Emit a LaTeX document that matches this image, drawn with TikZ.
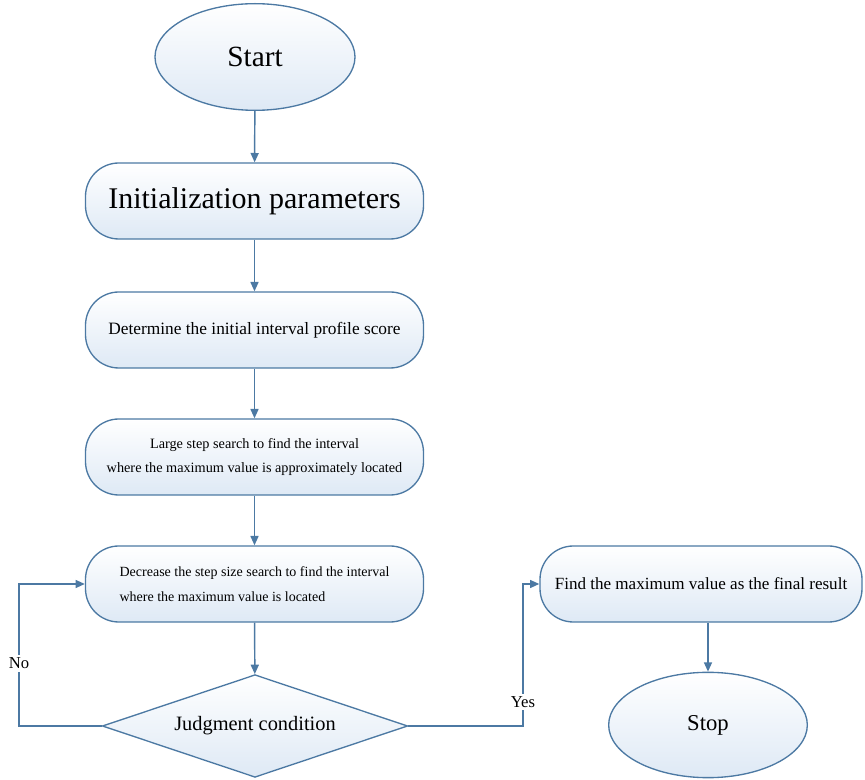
\documentclass[tikz,border=0pt]{standalone}
\usepackage{fontspec}
\setmainfont{Liberation Serif}
\usetikzlibrary{shapes.geometric, arrows.meta, positioning}

\definecolor{flowline}{RGB}{76,121,163}
\definecolor{flowfill}{RGB}{222,233,245}

\begin{document}
\begin{tikzpicture}[x=0.75pt, y=-0.75pt,
    terminal/.style={shape=ellipse, draw=flowline, line width=1pt, top color=white, bottom color=flowfill, inner sep=0pt},
    process/.style={shape=rectangle, rounded corners=25pt, draw=flowline, line width=1pt, top color=white, bottom color=flowfill, minimum width=253.5pt, minimum height=57pt, inner sep=0pt},
    decision/.style={shape=diamond, shape aspect=2.96, draw=flowline, line width=1pt, top color=white, bottom color=flowfill, minimum width=229pt, minimum height=77pt, inner sep=0pt},
    flow/.style={draw=flowline, line width=1.1pt, -{Triangle[length=7pt,width=6pt]}},
    branch/.style={fill=white, inner sep=2pt, font=\fontsize{12.5}{14}\selectfont}]
    \useasboundingbox (0,0) rectangle (865,780);
    % Define nodes
    \node[terminal, minimum width=150pt, minimum height=80pt, font=\fontsize{22}{26}\selectfont] (start) at (255,57) {Start};
    \node[process, font=\fontsize{22.5}{26}\selectfont] (init) at (254.5,201) {Initialization parameters};
    \node[process, font=\fontsize{13}{16}\selectfont] (score) at (254.5,330) {Determine the initial interval profile score};
    \node[process, align=center, font=\fontsize{10.7}{18}\selectfont] (large) at (254.5,457) {Large step search to find the interval\\where the maximum value is approximately located};
    \node[process, align=left, font=\fontsize{10.5}{19}\selectfont] (decrease) at (254.5,584) {Decrease the step size search to find the interval\\where the maximum value is located};
    \node[decision, font=\fontsize{15.3}{18}\selectfont] (judge) at (255,726) {Judgment condition};
    \node[process, minimum width=241.5pt, font=\fontsize{12.8}{15}\selectfont] (final) at (701,584) {Find the maximum value as the final result};
    \node[terminal, minimum width=149pt, minimum height=79pt, font=\fontsize{17}{20}\selectfont] (stop) at (708,725) {Stop};
    \coordinate (noturn) at (19,726);
    \coordinate (yesturn) at (523,726);
    % Draw edges
    \draw[flow] (start) -- (init);
    \draw[flow] (init) -- (score);
    \draw[flow] (score) -- (large);
    \draw[flow] (large) -- (decrease);
    \draw[flow] (decrease) -- (judge);
    \draw[flow] (judge.west) -- (noturn) |- node[branch, pos=0.22] {No} (decrease.west);
    \draw[flow] (judge.east) -- (yesturn) |- node[branch, pos=0.085] {Yes} (final.west);
    \draw[flow] (final.south -| stop) -- (stop);
\end{tikzpicture}
\end{document}
